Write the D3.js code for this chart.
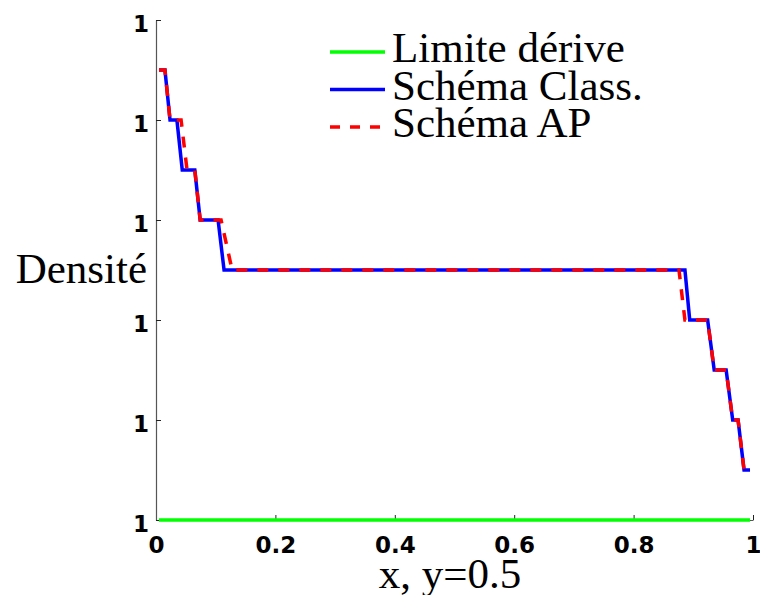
<!DOCTYPE html>
<html>
<head>
<meta charset="utf-8">
<script src="https://cdn.jsdelivr.net/npm/d3@7"></script>
<style>
  body { margin: 0; background: #fff; }
  .tick text { font-family: "DejaVu Sans", sans-serif; font-weight: bold; font-size: 23px; fill: #000; }
  .lbl { font-family: "Liberation Serif", "Times New Roman", serif; font-size: 43px; fill: #000; }
</style>
</head>
<body>
<div id="chart"></div>
<script>
// density profile along x at y=0.5
var xTicks = [0, 0.2, 0.4, 0.6, 0.8, 1];
var yTicks = [1, 1.00001, 1.00002, 1.00003, 1.00004, 1.00005];

var limiteX = [0.005, 0.995];
var limiteY = [1, 1];

var classX = [0.005, 0.015, 0.0235, 0.035, 0.044, 0.065, 0.074, 0.104, 0.114, 0.886, 0.894, 0.924, 0.935, 0.955, 0.966, 0.975, 0.985, 0.995];
var classY = [1.000045, 1.000045, 1.00004, 1.00004, 1.000035, 1.000035, 1.00003, 1.00003, 1.000025, 1.000025, 1.00002, 1.00002, 1.000015, 1.000015, 1.00001, 1.00001, 1.000005, 1.000005];

var apX = [0.005, 0.015, 0.0235, 0.042, 0.052, 0.065, 0.074, 0.109, 0.1275, 0.876, 0.886, 0.924, 0.935, 0.955, 0.966, 0.975, 0.985, 0.995];
var apY = [1.000045, 1.000045, 1.00004, 1.00004, 1.000035, 1.000035, 1.00003, 1.00003, 1.000025, 1.000025, 1.00002, 1.00002, 1.000015, 1.000015, 1.00001, 1.00001, 1.000005, 1.000005];

var seriesNames = ["Limite dérive", "Schéma Class.", "Schéma AP"];

var svgWidth = 760;
var svgHeight = 595;
var margin = { top: 20, right: 7, bottom: 75, left: 156 };
var width = svgWidth - margin.left - margin.right;
var height = svgHeight - margin.top - margin.bottom;

var svg = d3.select("#chart")
    .append("svg")
    .attr("width", svgWidth)
    .attr("height", svgHeight);

var chart = svg.append("g")
    .attr("transform", `translate(${margin.left}, ${margin.top})`);

var xscale = d3.scaleLinear().domain([0, 1]).range([0, width]);
var yscale = d3.scaleLinear().domain([1, 1.00005]).range([height, 0]);

// axes, ticks pointing inward like matlab
var xAxis = d3.axisBottom(xscale).tickValues(xTicks).tickSizeInner(-5).tickSizeOuter(0)
    .tickPadding(17).tickFormat(d3.format("~g"));
var yAxis = d3.axisLeft(yscale).tickValues(yTicks).tickSizeInner(-5).tickSizeOuter(0)
    .tickPadding(7).tickFormat(d3.format(".0f"));

var gx = chart.append("g")
    .attr("transform", `translate(0, ${height})`)
    .call(xAxis);
var gy = chart.append("g").call(yAxis);

[gx, gy].forEach(function (g) {
    g.select(".domain").attr("stroke", "#555").attr("stroke-width", 1.2);
    g.selectAll(".tick line").attr("stroke", "#222");
});
gy.selectAll(".tick text").attr("dy", "0.52em");
gx.selectAll(".tick text").attr("dy", "0.71em");

var line = d3.line()
    .x(d => xscale(d[0]))
    .y(d => yscale(d[1]));

function pairs(xs, ys) {
    return xs.map((v, i) => [v, ys[i]]);
}

chart.append("path")
    .datum(pairs(limiteX, limiteY))
    .attr("d", line)
    .attr("fill", "none")
    .attr("stroke", "#00ff00")
    .attr("stroke-width", 3.5);

chart.append("path")
    .datum(pairs(classX, classY))
    .attr("d", line)
    .attr("fill", "none")
    .attr("stroke", "#0000ff")
    .attr("stroke-width", 3.5);

chart.append("path")
    .datum(pairs(apX, apY))
    .attr("d", line)
    .attr("fill", "none")
    .attr("stroke", "#ff0000")
    .attr("stroke-width", 3.5)
    .attr("stroke-dasharray", "11,10");

// legend
var legColors = ["#00ff00", "#0000ff", "#ff0000"];
var legDash = [null, null, "10,10"];
var leg = svg.append("g").attr("transform", "translate(330, 52)");
seriesNames.forEach(function (name, i) {
    var row = leg.append("g").attr("transform", `translate(0, ${i * 37.5})`);
    row.append("line")
        .attr("x1", 0).attr("x2", 55)
        .attr("y1", 0).attr("y2", 0)
        .attr("stroke", legColors[i])
        .attr("stroke-width", 3.5)
        .attr("stroke-dasharray", legDash[i]);
    row.append("text")
        .attr("class", "lbl")
        .attr("x", 62)
        .attr("y", 10)
        .text(name);
});

// axis labels
svg.append("text")
    .attr("class", "lbl")
    .attr("text-anchor", "end")
    .attr("x", 147)
    .attr("y", 283)
    .text("Densité");

svg.append("text")
    .attr("class", "lbl")
    .attr("text-anchor", "middle")
    .attr("x", 450)
    .attr("y", 588)
    .text("x, y=0.5");
</script>
</body>
</html>
